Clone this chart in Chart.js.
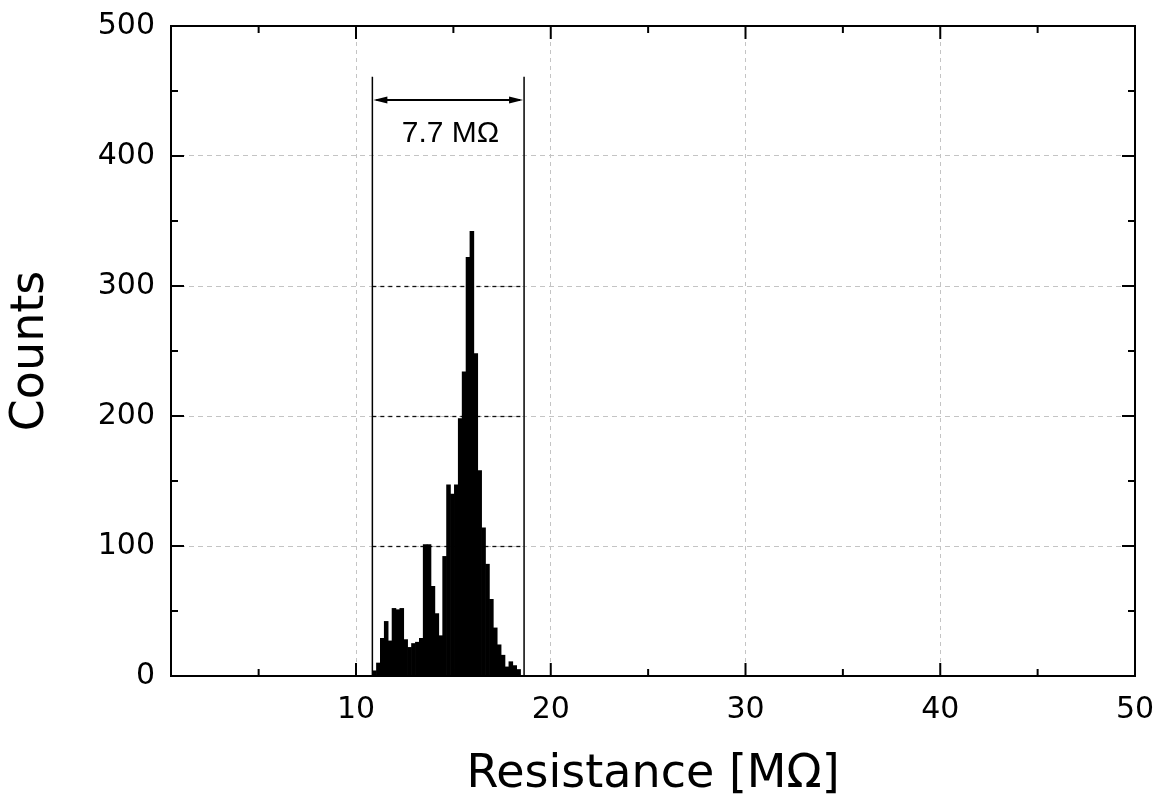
<!DOCTYPE html>
<html><head><meta charset="utf-8">
<script src="https://cdn.jsdelivr.net/npm/chart.js@4.4.0/dist/chart.umd.min.js"></script>
<style>html,body{margin:0;padding:0;background:#fff}#wrap{width:1160px;height:800px;position:relative}canvas{display:block}</style>
</head><body><div id="wrap"><canvas id="c" width="1160" height="800"></canvas></div>
<script>
// ---- data ----
const binCenters = [10.95, 11.15, 11.35, 11.55, 11.75, 11.95, 12.15, 12.35, 12.55, 12.75,
  12.95, 13.15, 13.35, 13.55, 13.75, 13.95, 14.15, 14.35, 14.55, 14.75,
  14.95, 15.15, 15.35, 15.55, 15.75, 15.95, 16.15, 16.35, 16.55, 16.75,
  16.95, 17.15, 17.35, 17.55, 17.75, 17.95, 18.15, 18.35];
const counts = [4, 10, 29, 42, 27, 52, 51, 52, 28, 22,
  25, 26, 29, 101, 101, 69, 48, 31, 92, 147,
  140, 147, 198, 234, 322, 342, 248, 158, 114, 86,
  59, 37, 24, 16, 7, 11, 8, 5];
const xMajorTicks = [10, 20, 30, 40, 50];
const xMinorTicks = [5, 15, 25, 35, 45];
const yMajorTicks = [0, 100, 200, 300, 400, 500];
const yMinorTicks = [50, 150, 250, 350, 450];
const xRange = [0.5, 50];
const yRange = [0, 500];
const markerLeft = 10.84;
const markerRight = 18.63;
const markerTop = 461;      // counts
const arrowLevel = 443;     // counts
const widthLabel = '7.7 M\u03A9';
const widthLabelPos = [14.85, 417];
const darkGridValues = [100, 200, 300];
const xTitle = 'Resistance [M\u03A9]';
const yTitle = 'Counts';

const annot = {
  id: 'annot',
  beforeDatasetsDraw(chart) {
    const {ctx, scales: {x, y}} = chart;
    const xl = x.getPixelForValue(markerLeft), xr = x.getPixelForValue(markerRight);
    ctx.save();
    ctx.strokeStyle = '#111'; ctx.lineWidth = 1.3; ctx.setLineDash([4, 4]);
    darkGridValues.forEach(v => {
      const py = Math.round(y.getPixelForValue(v)) + 0.5;
      ctx.beginPath(); ctx.moveTo(xl, py); ctx.lineTo(xr, py); ctx.stroke();
    });
    ctx.restore();
  },
  afterDatasetsDraw(chart) {
    const {ctx, chartArea: a, scales: {x, y}} = chart;
    ctx.save();
    const xl = x.getPixelForValue(markerLeft), xr = x.getPixelForValue(markerRight);
    const yt = y.getPixelForValue(markerTop);
    ctx.strokeStyle = '#000'; ctx.lineWidth = 1.5;
    [xl, xr].forEach(px => { ctx.beginPath(); ctx.moveTo(px, yt); ctx.lineTo(px, a.bottom); ctx.stroke(); });
    const ya = y.getPixelForValue(arrowLevel);
    const ah = 14, aw = 3.5;
    ctx.lineWidth = 2;
    ctx.beginPath(); ctx.moveTo(xl + 4, ya); ctx.lineTo(xr - 4, ya); ctx.stroke();
    ctx.fillStyle = '#000';
    ctx.beginPath(); ctx.moveTo(xl + 1, ya); ctx.lineTo(xl + 1 + ah, ya - aw); ctx.lineTo(xl + 1 + ah, ya + aw); ctx.closePath(); ctx.fill();
    ctx.beginPath(); ctx.moveTo(xr - 1, ya); ctx.lineTo(xr - 1 - ah, ya - aw); ctx.lineTo(xr - 1 - ah, ya + aw); ctx.closePath(); ctx.fill();
    ctx.font = '30px "Liberation Sans", Arial, sans-serif';
    ctx.textAlign = 'center'; ctx.textBaseline = 'middle';
    ctx.fillText(widthLabel, x.getPixelForValue(widthLabelPos[0]), y.getPixelForValue(widthLabelPos[1]));
    ctx.lineWidth = 2;
    ctx.strokeRect(a.left, a.top, a.right - a.left, a.bottom - a.top);
    const tick = (horizontal, vals, len) => {
      vals.forEach(v => {
        if (horizontal) {
          const px = x.getPixelForValue(v);
          ctx.beginPath(); ctx.moveTo(px, a.bottom); ctx.lineTo(px, a.bottom - len); ctx.stroke();
          ctx.beginPath(); ctx.moveTo(px, a.top); ctx.lineTo(px, a.top + len); ctx.stroke();
        } else {
          const py = y.getPixelForValue(v);
          ctx.beginPath(); ctx.moveTo(a.left, py); ctx.lineTo(a.left + len, py); ctx.stroke();
          ctx.beginPath(); ctx.moveTo(a.right, py); ctx.lineTo(a.right - len, py); ctx.stroke();
        }
      });
    };
    tick(true, xMajorTicks, 13);
    tick(true, xMinorTicks, 7);
    tick(false, yMajorTicks, 13);
    tick(false, yMinorTicks, 7);
    ctx.restore();
  }
};

const tickFont = {family: '"DejaVu Sans", Verdana, sans-serif', size: 30};
const titleFont = {family: '"DejaVu Sans", Verdana, sans-serif', size: 46, lineHeight: 1.1};

new Chart(document.getElementById('c'), {
  type: 'bar',
  data: {
    datasets: [{
      data: binCenters.map((c, i) => ({x: c, y: counts[i]})),
      backgroundColor: '#000',
      borderWidth: 0,
      barPercentage: 1,
      categoryPercentage: 1
    }]
  },
  options: {
    responsive: false,
    animation: false,
    devicePixelRatio: 1,
    layout: {padding: {top: 26, right: 25, left: 0, bottom: 0}},
    plugins: {legend: {display: false}, tooltip: {enabled: false}},
    scales: {
      x: {
        type: 'linear', min: xRange[0], max: xRange[1], offset: false,
        afterBuildTicks: s => { s.ticks = xMajorTicks.map(v => ({value: v})); },
        afterFit: s => { s.height = 124; s.paddingLeft = 0; s.paddingRight = 0; },
        ticks: {color: '#000', font: tickFont, padding: 16, maxRotation: 0, autoSkip: false},
        grid: {color: '#c4c4c4', lineWidth: 1, drawTicks: false, offset: false},
        border: {display: false, dash: [4, 4]},
        title: {display: true, text: xTitle, color: '#000', font: titleFont, padding: {top: 0, bottom: 0}}
      },
      y: {
        type: 'linear', min: yRange[0], max: yRange[1],
        afterBuildTicks: s => { s.ticks = yMajorTicks.map(v => ({value: v})); },
        afterFit: s => { s.width = 171; s.paddingTop = 0; s.paddingBottom = 0; },
        ticks: {color: '#000', font: tickFont, padding: 16},
        grid: {color: '#c4c4c4', lineWidth: 1, drawTicks: false},
        border: {display: false, dash: [5, 4]},
        title: {display: true, text: yTitle, color: '#000', font: titleFont, padding: {top: 6, bottom: 0}}
      }
    }
  },
  plugins: [annot]
});
</script></body></html>
